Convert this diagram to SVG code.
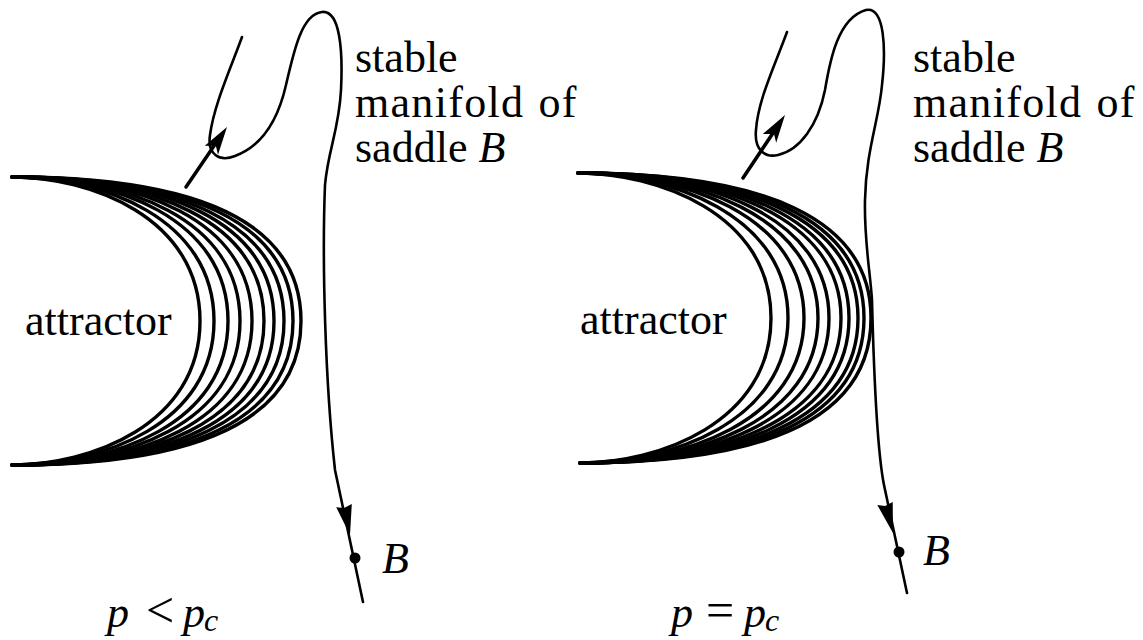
<svg xmlns="http://www.w3.org/2000/svg" width="1143" height="640" viewBox="0 0 1143 640">
<style>
.c{fill:none;stroke:#000;stroke-width:3.4;stroke-linecap:round}
.m{fill:none;stroke:#000;stroke-width:2.6;stroke-linecap:round}
.a{fill:none;stroke:#000;stroke-width:3.5;stroke-linecap:round}
.h{fill:#000;stroke:none}
.t{font-size:44px;fill:#000}
.i{font-style:italic}
.w{word-spacing:2px;letter-spacing:1.3px}
</style>
<rect width="1143" height="640" fill="#fff"/>
<g id="left-panel">
<g id="attractor-left">
<path class="c" d="M12,177 C90,177 200,217 200,321 C200,425 90,465 12,465"/>
<path class="c" d="M12,177 C102,177 214,218 214,321 C214,424 102,465 12,465"/>
<path class="c" d="M12,177 C114,177 228,218 228,321 C228,424 114,465 12,465"/>
<path class="c" d="M12,177 C126,177 240,219 240,321 C240,423 126,465 12,465"/>
<path class="c" d="M12,177 C138,177 252,219 252,321 C252,423 138,465 12,465"/>
<path class="c" d="M12,177 C150,177 264,220 264,321 C264,422 150,465 12,465"/>
<path class="c" d="M12,177 C162,177 274,220 274,321 C274,422 162,465 12,465"/>
<path class="c" d="M12,177 C174,177 284,221 284,321 C284,421 174,465 12,465"/>
<path class="c" d="M12,177 C186,177 293,221 293,321 C293,421 186,465 12,465"/>
<path class="c" d="M12,177 C198,177 301,222 301,321 C301,420 198,465 12,465"/>
<text class="t" x="25" y="335" font-family="Times New Roman, Liberation Serif, Times, Noto Serif, DejaVu Serif, serif">attractor</text>
</g>
<g id="manifold-left">
<path class="m" d="M242,37 C230,70 214,105 210,135 C207,155 220,162 235,156 C262,146 278,120 286,85 C294,50 302,14 322,12 C340,10 343,50 341,90 C339,130 328,150 325,185 C322,260 325,380 335,470 L363,602"/>
<path class="a" d="M186,187 L218,140"/>
<polygon class="h" points="227,127 218,154.7 215.9,146 204.8,145.7"/>
<polygon class="h" points="350,535 351.8,504 344,508 336.2,507.2"/>
<circle class="h" cx="355" cy="558" r="5.5"/>
</g>
<g id="labels-left" font-family="Times New Roman, Liberation Serif, Times, Noto Serif, DejaVu Serif, serif">
<text class="t" x="355" y="72">stable</text>
<text class="t w" x="355" y="117">manifold of</text>
<text class="t" x="355" y="162">saddle <tspan class="i">B</tspan></text>
<text class="t i" x="382" y="573">B</text>
<text class="t" y="627"><tspan x="107" class="i">p</tspan><tspan x="146" font-size="50">&lt;</tspan><tspan x="183" class="i">p</tspan><tspan x="204" dy="4" class="i" font-size="32">c</tspan></text>
</g>
</g>
<g id="right-panel">
<g id="attractor-right">
<path class="c" d="M578,173 C656,173 771,213 771,318 C771,423 658,463 580,463"/>
<path class="c" d="M578,173 C668,173 788,214 788,318 C788,422 670,463 580,463"/>
<path class="c" d="M578,173 C680,173 804,214 804,318 C804,422 682,463 580,463"/>
<path class="c" d="M578,173 C692,173 818,215 818,318 C818,421 694,463 580,463"/>
<path class="c" d="M578,173 C704,173 829,215 829,318 C829,421 706,463 580,463"/>
<path class="c" d="M578,173 C716,173 841,216 841,318 C841,420 718,463 580,463"/>
<path class="c" d="M578,173 C728,173 849,216 849,318 C849,420 730,463 580,463"/>
<path class="c" d="M578,173 C740,173 858,217 858,318 C858,419 742,463 580,463"/>
<path class="c" d="M578,173 C752,173 864,217 864,318 C864,419 754,463 580,463"/>
<path class="c" d="M578,173 C764,173 871,218 871,318 C871,418 766,463 580,463"/>
<text class="t" x="580" y="334" font-family="Times New Roman, Liberation Serif, Times, Noto Serif, DejaVu Serif, serif">attractor</text>
</g>
<g id="manifold-right">
<path class="m" d="M787,32 C775,65 758,100 756,130 C754,150 765,158 778,155 C800,150 818,125 825,90 C830,60 838,18 866,10 C885,6 886,50 882,85 C879,120 866,150 865,200 C864,240 870,270 872,300 C874,380 877,450 884,485 L907,593"/>
<path class="a" d="M743,178 L777,127"/>
<polygon class="h" points="785,115 776.2,142.7 774,134 762.8,133.9"/>
<polygon class="h" points="893,533 892.7,502 885,506 877.3,505"/>
<circle class="h" cx="899" cy="552" r="5.5"/>
</g>
<g id="labels-right" font-family="Times New Roman, Liberation Serif, Times, Noto Serif, DejaVu Serif, serif">
<text class="t" x="913" y="72">stable</text>
<text class="t w" x="913" y="117">manifold of</text>
<text class="t" x="913" y="162">saddle <tspan class="i">B</tspan></text>
<text class="t i" x="923" y="565">B</text>
<text class="t" y="627"><tspan x="671" class="i">p</tspan><tspan x="706" font-size="50">=</tspan><tspan x="744" class="i">p</tspan><tspan x="765" dy="4" class="i" font-size="32">c</tspan></text>
</g>
</g>
</svg>
